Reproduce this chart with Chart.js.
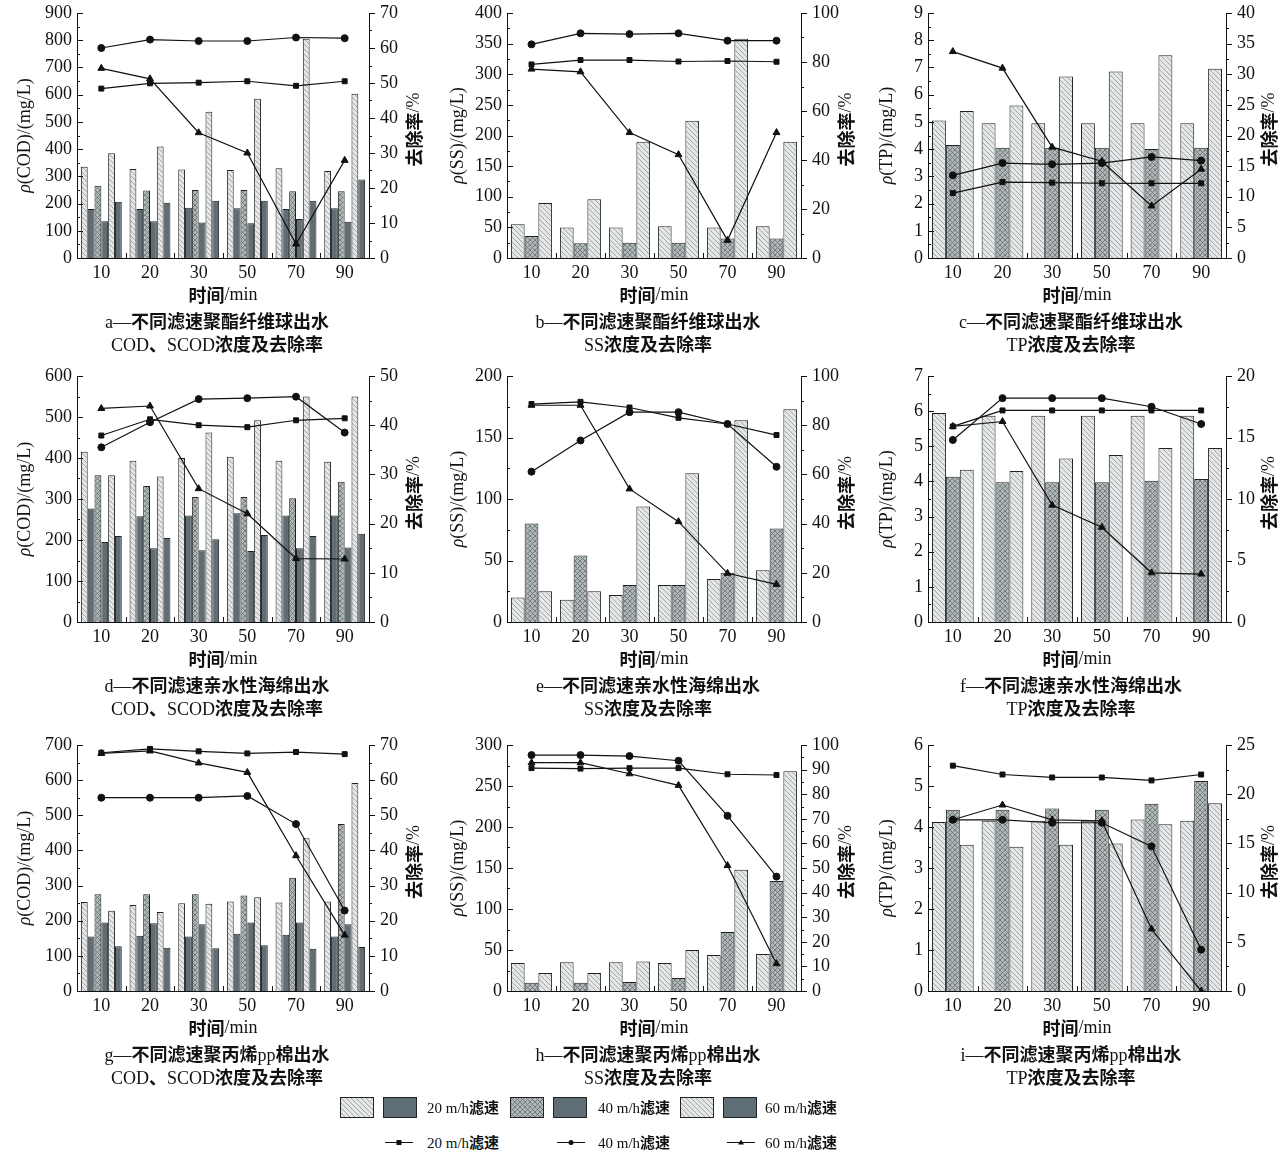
<!DOCTYPE html>
<html>
<head>
<meta charset="utf-8">
<script src="https://cdn.jsdelivr.net/npm/chart.js@4.4.0/dist/chart.umd.min.js"></script>
<style>
  body { margin: 0; background: #fff; width: 1280px; height: 1160px; position: relative; overflow: hidden;
         font-family: "Liberation Serif", "Noto Sans CJK SC", serif; color: #111; }
  .panel { position: absolute; }
  .cap { position: absolute; width: 320px; text-align: center; font-size: 18px; line-height: 22px; white-space: nowrap; }
  b { font-family: "Noto Sans CJK SC"; font-weight: 700; }
  .lg { position: absolute; font-size: 15px; line-height: 20px; white-space: nowrap; }
  .sw { position: absolute; }
</style>
</head>
<body>
<script>
// time axis
var times = ['10', '20', '30', '50', '70', '90'];

// a - polyester fibre ball, COD / SCOD
var aCod20 = [335, 327, 325, 323, 330, 320];
var aScod20 = [180, 180, 185, 183, 180, 183];
var aCod40 = [265, 248, 250, 250, 245, 245];
var aScod40 = [135, 135, 130, 128, 143, 133];
var aCod60 = [385, 410, 537, 585, 805, 603];
var aScod60 = [207, 203, 210, 210, 210, 288];
var aRate20 = [48.4, 49.9, 50.1, 50.5, 49.2, 50.5];
var aRate40 = [60.0, 62.4, 62.0, 62.0, 63.0, 62.8];
var aRate60 = [54.2, 51.2, 35.8, 30.0, 4.0, 27.9];

// b - polyester fibre ball, SS
var bSs20 = [55, 50, 50, 52, 50, 52];
var bSs40 = [36, 24, 25, 25, 32, 32];
var bSs60 = [90, 96, 190, 224, 358, 190];
var bRate20 = [79.0, 80.8, 80.8, 80.2, 80.4, 80.1];
var bRate40 = [87.2, 91.7, 91.4, 91.7, 88.7, 88.7];
var bRate60 = [77.1, 76.0, 51.2, 42.2, 7.2, 51.2];

// c - polyester fibre ball, TP
var cTp20 = [5.05, 4.95, 4.95, 4.95, 4.95, 4.95];
var cTp40 = [4.15, 4.05, 4.05, 4.05, 4.0, 4.05];
var cTp60 = [5.4, 5.6, 6.67, 6.85, 7.45, 6.95];
var cRate20 = [10.6, 12.4, 12.3, 12.2, 12.2, 12.2];
var cRate40 = [13.5, 15.5, 15.3, 15.5, 16.5, 15.9];
var cRate60 = [33.7, 31.0, 18.1, 15.8, 8.5, 14.5];

// d - hydrophilic sponge, COD / SCOD
var dCod20 = [415, 393, 400, 403, 393, 391];
var dScod20 = [277, 258, 260, 265, 260, 260];
var dCod40 = [358, 332, 305, 305, 302, 342];
var dScod40 = [195, 180, 175, 173, 180, 182];
var dCod60 = [358, 355, 462, 492, 550, 550];
var dScod60 = [210, 205, 202, 212, 210, 215];
var dRate20 = [37.9, 41.2, 40.0, 39.6, 41.0, 41.4];
var dRate40 = [35.5, 40.6, 45.3, 45.5, 45.8, 38.5];
var dRate60 = [43.4, 43.9, 27.1, 22.0, 12.9, 12.8];

// e - hydrophilic sponge, SS
var eSs20 = [20, 18, 22, 30, 35, 42];
var eSs40 = [80, 54, 30, 30, 40, 76];
var eSs60 = [25, 25, 94, 121, 164, 173];
var eRate20 = [88.6, 89.5, 87.2, 83.0, 80.5, 76.0];
var eRate40 = [61.1, 73.8, 85.3, 85.3, 80.5, 63.1];
var eRate60 = [88.1, 88.1, 54.1, 40.8, 19.8, 15.3];

// f - hydrophilic sponge, TP
var fTp20 = [5.95, 5.87, 5.87, 5.87, 5.87, 5.87];
var fTp40 = [4.13, 3.98, 3.98, 3.98, 4.02, 4.07];
var fTp60 = [4.33, 4.3, 4.65, 4.75, 4.95, 4.95];
var fRate20 = [15.9, 17.2, 17.2, 17.2, 17.2, 17.2];
var fRate40 = [14.8, 18.2, 18.2, 18.2, 17.5, 16.1];
var fRate60 = [15.9, 16.3, 9.5, 7.7, 4.0, 3.9];

// g - pp cotton, COD / SCOD
var gCod20 = [253, 245, 250, 255, 252, 255];
var gScod20 = [155, 157, 155, 163, 160, 155];
var gCod40 = [275, 275, 275, 272, 322, 475];
var gScod40 = [195, 193, 190, 195, 195, 190];
var gCod60 = [228, 225, 248, 267, 435, 592];
var gScod60 = [127, 123, 122, 130, 120, 125];
var gRate20 = [67.8, 68.9, 68.2, 67.6, 68.0, 67.4];
var gRate40 = [55.0, 55.0, 55.0, 55.5, 47.5, 22.9];
var gRate60 = [67.6, 68.3, 64.9, 62.2, 38.5, 15.9];

// h - pp cotton, SS
var hSs20 = [34, 35, 35, 34, 44, 45];
var hSs40 = [10, 10, 11, 16, 72, 134];
var hSs60 = [22, 22, 36, 50, 148, 268];
var hRate20 = [90.6, 90.4, 90.6, 90.6, 88.1, 87.8];
var hRate40 = [95.9, 95.9, 95.5, 93.6, 71.2, 46.5];
var hRate60 = [92.8, 92.8, 88.3, 83.6, 51.0, 11.1];

// i - pp cotton, TP
var iTp20 = [4.12, 4.15, 4.15, 4.15, 4.18, 4.15];
var iTp40 = [4.42, 4.42, 4.45, 4.42, 4.57, 5.12];
var iTp60 = [3.57, 3.52, 3.57, 3.6, 4.07, 4.58];
var iRate20 = [22.9, 22.0, 21.7, 21.7, 21.4, 22.0];
var iRate40 = [17.4, 17.4, 17.1, 17.1, 14.7, 4.2];
var iRate60 = [17.4, 18.9, 17.4, 17.3, 6.3, 0];

// axis ranges: [left max, left step, right max, right step]
var aAxis = [900, 100, 70, 10];
var bAxis = [400, 50, 100, 10];
var cAxis = [9, 1, 40, 5];
var dAxis = [600, 100, 50, 10];
var eAxis = [200, 50, 100, 20];
var fAxis = [7, 1, 20, 5];
var gAxis = [700, 100, 70, 10];
var hAxis = [300, 50, 100, 10];
var iAxis = [6, 1, 25, 5];

var speedNames = ['20 m/h滤速', '40 m/h滤速', '60 m/h滤速'];

// ---- layout of the 3x3 grid ----
var cols = [
    { left: 0, width: 430, plotL: 77, plotR: 369, lTitle: 25, rTitle: 414 },
    { left: 430, width: 430, plotL: 77, plotR: 371, lTitle: 28, rTitle: 416 },
    { left: 860, width: 420, plotL: 68, plotR: 366, lTitle: 27, rTitle: 409 }
];
var rows = [
    { top: 0, padTop: 13, plotB: 258 },
    { top: 356, padTop: 20, plotB: 622 },
    { top: 725, padTop: 20, plotB: 991 }
];
var XAXIS_H = 52;

// ---- fill patterns ----
function makePattern(kind) {
    var c = document.createElement('canvas');
    c.width = 5; c.height = 5;
    var g = c.getContext('2d');
    if (kind === 'dark') {
        g.fillStyle = '#5f6e74';
        g.fillRect(0, 0, 5, 5);
        return g.createPattern(c, 'repeat');
    }
    g.fillStyle = kind === 'light' ? '#e4e7e7' : '#b0b7b8';
    g.fillRect(0, 0, 5, 5);
    g.strokeStyle = kind === 'light' ? '#9ba1a2' : '#6c7577';
    g.lineWidth = 0.9;
    g.beginPath();
    // "\" diagonals
    g.moveTo(-1, -1); g.lineTo(6, 6);
    g.moveTo(-1, 4); g.lineTo(1, 6);
    g.moveTo(4, -1); g.lineTo(6, 1);
    if (kind === 'medium') {
        g.moveTo(6, -1); g.lineTo(-1, 6);
    }
    g.stroke();
    return g.createPattern(c, 'repeat');
}
var fills = { light: makePattern('light'), medium: makePattern('medium'), dark: makePattern('dark') };

var pointStyles = ['rect', 'circle', 'triangle'];
var pointSizes = [3.5, 3.5, 4];

// ---- drawing helpers ----
function drawParts(ctx, parts, cx, cy, rot) {
    ctx.save();
    ctx.translate(cx, cy);
    ctx.rotate(rot);
    ctx.textBaseline = 'middle';
    ctx.textAlign = 'left';
    var total = 0;
    parts.forEach(function (p) { ctx.font = p.f; p.w = ctx.measureText(p.t).width; total += p.w; });
    var x = -total / 2;
    parts.forEach(function (p) { ctx.font = p.f; ctx.fillText(p.t, x, 0); x += p.w; });
    ctx.restore();
}
var SERIF = '18px "Liberation Serif"';
var CJK = 'bold 18px "Noto Sans CJK SC"';

// inward/outward tick marks + mixed-font axis titles
var axisDecor = {
    id: 'axisDecor',
    afterDraw: function (chart, args, opts) {
        var ctx = chart.ctx, area = chart.chartArea;
        var ys = [chart.scales.y, chart.scales.y1];
        ctx.save();
        ctx.strokeStyle = '#111';
        ctx.lineWidth = 1;
        ctx.beginPath();
        ys.forEach(function (sc, k) {
            var vals = sc.ticks.map(function (t) { return t.value; });
            var edge = k === 0 ? area.left : area.right;
            vals.forEach(function (v, j) {
                var py = Math.round(sc.getPixelForValue(v)) + 0.5;
                ctx.moveTo(edge, py); ctx.lineTo(edge + 6, py);
                if (j < vals.length - 1) {
                    var pm = Math.round(sc.getPixelForValue((v + vals[j + 1]) / 2)) + 0.5;
                    ctx.moveTo(edge, pm); ctx.lineTo(edge + 3, pm);
                }
            });
        });
        var xs = chart.scales.x;
        for (var i = 0; i < times.length - 1; i++) {
            var px = Math.round((xs.getPixelForValue(i) + xs.getPixelForValue(i + 1)) / 2) + 0.5;
            ctx.moveTo(px, area.bottom); ctx.lineTo(px, area.bottom - 5);
        }
        ctx.stroke();
        ctx.fillStyle = '#111';
        var midY = (area.top + area.bottom) / 2;
        drawParts(ctx, [{ t: 'ρ', f: 'italic ' + SERIF }, { t: '(' + opts.name + ')/(mg/L)', f: SERIF }],
            opts.lTitle, midY, -Math.PI / 2);
        drawParts(ctx, [{ t: '去除率', f: CJK }, { t: '/%', f: SERIF }], opts.rTitle, midY - 6, -Math.PI / 2);
        drawParts(ctx, [{ t: '时间', f: CJK }, { t: '/min', f: SERIF }], (area.left + area.right) / 2, area.bottom + 37, 0);
        ctx.restore();
    }
};

function cjkBold(s) {
    return s.replace(/([\u3000-\u303f\u4e00-\u9fff]+)/g, '<b>$1</b>');
}

var panels = [
    { col: 0, row: 0, name: 'COD', bars: [aCod20, aScod20, aCod40, aScod40, aCod60, aScod60], rates: [aRate20, aRate40, aRate60], axis: aAxis,
      cap: ['a—不同滤速聚酯纤维球出水', 'COD、SCOD浓度及去除率'] },
    { col: 1, row: 0, name: 'SS', bars: [bSs20, bSs40, bSs60], rates: [bRate20, bRate40, bRate60], axis: bAxis,
      cap: ['b—不同滤速聚酯纤维球出水', 'SS浓度及去除率'] },
    { col: 2, row: 0, name: 'TP', bars: [cTp20, cTp40, cTp60], rates: [cRate20, cRate40, cRate60], axis: cAxis,
      cap: ['c—不同滤速聚酯纤维球出水', 'TP浓度及去除率'] },
    { col: 0, row: 1, name: 'COD', bars: [dCod20, dScod20, dCod40, dScod40, dCod60, dScod60], rates: [dRate20, dRate40, dRate60], axis: dAxis,
      cap: ['d—不同滤速亲水性海绵出水', 'COD、SCOD浓度及去除率'] },
    { col: 1, row: 1, name: 'SS', bars: [eSs20, eSs40, eSs60], rates: [eRate20, eRate40, eRate60], axis: eAxis,
      cap: ['e—不同滤速亲水性海绵出水', 'SS浓度及去除率'] },
    { col: 2, row: 1, name: 'TP', bars: [fTp20, fTp40, fTp60], rates: [fRate20, fRate40, fRate60], axis: fAxis,
      cap: ['f—不同滤速亲水性海绵出水', 'TP浓度及去除率'] },
    { col: 0, row: 2, name: 'COD', bars: [gCod20, gScod20, gCod40, gScod40, gCod60, gScod60], rates: [gRate20, gRate40, gRate60], axis: gAxis,
      cap: ['g—不同滤速聚丙烯pp棉出水', 'COD、SCOD浓度及去除率'] },
    { col: 1, row: 2, name: 'SS', bars: [hSs20, hSs40, hSs60], rates: [hRate20, hRate40, hRate60], axis: hAxis,
      cap: ['h—不同滤速聚丙烯pp棉出水', 'SS浓度及去除率'] },
    { col: 2, row: 2, name: 'TP', bars: [iTp20, iTp40, iTp60], rates: [iRate20, iRate40, iRate60], axis: iAxis,
      cap: ['i—不同滤速聚丙烯pp棉出水', 'TP浓度及去除率'] }
];

Chart.defaults.font.family = '"Liberation Serif"';
Chart.defaults.font.size = 18;
Chart.defaults.color = '#111';

panels.forEach(function (p) {
    var col = cols[p.col], row = rows[p.row];
    var h = row.plotB - row.top + XAXIS_H;
    var cv = document.createElement('canvas');
    cv.className = 'panel';
    cv.width = col.width; cv.height = h;
    cv.style.left = col.left + 'px'; cv.style.top = row.top + 'px';
    cv.style.width = col.width + 'px'; cv.style.height = h + 'px';
    document.body.appendChild(cv);

    var styles = p.bars.length === 6
        ? ['light', 'dark', 'medium', 'dark', 'light', 'dark']
        : ['light', 'medium', 'light'];
    var datasets = p.bars.map(function (vals, k) {
        return {
            type: 'bar', data: vals, yAxisID: 'y', order: 2,
            backgroundColor: fills[styles[k]], borderColor: '#222', borderWidth: 1,
            categoryPercentage: 0.84, barPercentage: 1.0
        };
    });
    p.rates.forEach(function (vals, k) {
        datasets.push({
            type: 'line', data: vals, yAxisID: 'y1', order: 0,
            borderColor: '#111', borderWidth: 1.2, tension: 0, fill: false,
            pointStyle: pointStyles[k], pointRadius: pointSizes[k],
            pointBackgroundColor: '#111', pointBorderColor: '#111', pointBorderWidth: 1
        });
    });

    function fitY(width) {
        return function (s) { s.width = width; s.paddingTop = 0; s.paddingBottom = 0; };
    }

    new Chart(cv, {
        data: { labels: times, datasets: datasets },
        options: {
            responsive: false,
            animation: false,
            layout: { padding: { top: row.padTop, left: 0, right: 0, bottom: 0 } },
            plugins: {
                legend: { display: false },
                tooltip: { enabled: false },
                axisDecor: { name: p.name, lTitle: col.lTitle, rTitle: col.rTitle }
            },
            scales: {
                x: {
                    type: 'category', offset: true,
                    grid: { display: false, drawTicks: false },
                    border: { display: true, color: '#111', width: 1 },
                    ticks: { padding: 4, maxRotation: 0 },
                    afterFit: function (s) { s.height = XAXIS_H; s.paddingLeft = 0; s.paddingRight = 0; }
                },
                y: {
                    position: 'left', min: 0, max: p.axis[0],
                    grid: { display: false, drawTicks: false },
                    border: { display: true, color: '#111', width: 1 },
                    ticks: { stepSize: p.axis[1], padding: 5 },
                    afterFit: fitY(col.plotL)
                },
                y1: {
                    position: 'right', min: 0, max: p.axis[2],
                    grid: { display: false, drawTicks: false },
                    border: { display: true, color: '#111', width: 1 },
                    ticks: { stepSize: p.axis[3], padding: 11 },
                    afterFit: fitY(col.width - col.plotR)
                }
            }
        },
        plugins: [axisDecor]
    });

    var cx = col.left + (col.plotL + col.plotR) / 2 - 6;
    p.cap.forEach(function (line, k) {
        var d = document.createElement('div');
        d.className = 'cap';
        d.style.left = (cx - 160) + 'px';
        d.style.top = (row.plotB + 62 + k * 23 - 11) + 'px';
        d.innerHTML = cjkBold(line);
        document.body.appendChild(d);
    });
});

// ---- shared legend ----
function swatch(x, y, w, h, kind) {
    var c = document.createElement('canvas');
    c.className = 'sw';
    c.width = w; c.height = h;
    c.style.left = x + 'px'; c.style.top = y + 'px';
    var g = c.getContext('2d');
    g.fillStyle = fills[kind];
    g.fillRect(0, 0, w, h);
    g.strokeStyle = '#222';
    g.lineWidth = 1;
    g.strokeRect(0.5, 0.5, w - 1, h - 1);
    document.body.appendChild(c);
}
function lineSample(x, y, w, k) {
    var c = document.createElement('canvas');
    c.className = 'sw';
    c.width = w; c.height = 12;
    c.style.left = x + 'px'; c.style.top = (y - 6) + 'px';
    var g = c.getContext('2d');
    g.strokeStyle = '#111'; g.fillStyle = '#111'; g.lineWidth = 1;
    g.beginPath(); g.moveTo(0, 6.5); g.lineTo(w, 6.5); g.stroke();
    var m = w / 2;
    g.beginPath();
    if (k === 0) g.rect(m - 2.5, 4, 5, 5);
    else if (k === 1) g.arc(m, 6.5, 2.5, 0, Math.PI * 2);
    else { g.moveTo(m, 3.5); g.lineTo(m + 3, 8.5); g.lineTo(m - 3, 8.5); g.closePath(); }
    g.fill();
    document.body.appendChild(c);
}
function legendText(x, yc, s) {
    var d = document.createElement('div');
    d.className = 'lg';
    d.style.left = x + 'px';
    d.style.top = (yc - 10) + 'px';
    d.innerHTML = cjkBold(s);
    document.body.appendChild(d);
}
var boxKinds = ['light', 'medium', 'light'];
var boxX = [340, 510, 680];
var textX = [427, 598, 765];
var lineX = [385, 557, 727];
speedNames.forEach(function (s, k) {
    swatch(boxX[k], 1097, 34, 21, boxKinds[k]);
    swatch(boxX[k] + 43, 1097, 34, 21, 'dark');
    legendText(textX[k], 1107, s);
    lineSample(lineX[k], 1142, 28, k);
    legendText(textX[k], 1142, s);
});
</script>
</body>
</html>
